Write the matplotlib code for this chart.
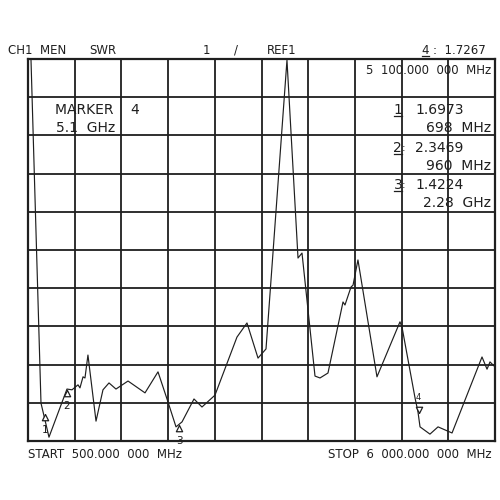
import numpy as np
import matplotlib.pyplot as plt
from matplotlib.lines import Line2D

# trace (frequency in MHz, SWR)
freq_mhz = [535, 653, 700, 747, 959, 1018, 1089, 1112, 1148, 1171, 1206, 1301,
            1383, 1454, 1536, 1678, 1878, 2031, 2149, 2243, 2314, 2455, 2549,
            2702, 2961, 3079, 3209, 3303, 3550, 3680, 3727, 3880, 3939, 4033,
            4210, 4233, 4304, 4328, 4386, 4610, 4881, 4905, 5058, 5093, 5117,
            5234, 5329, 5494, 5847, 5906, 5941, 6000]
swr = [11.0, 1.99, 1.55, 1.10, 2.36, 2.34, 2.47, 2.39, 2.68, 2.65, 3.25, 1.52,
       2.34, 2.52, 2.36, 2.57, 2.26, 2.81, 2.02, 1.37, 1.50, 2.10, 1.89,
       2.20, 3.72, 4.09, 3.17, 3.41, 10.97, 5.79, 5.92, 2.70, 2.65, 2.78,
       4.64, 4.56, 5.03, 5.08, 5.74, 2.68, 4.12, 3.98, 2.13, 1.76, 1.37,
       1.18, 1.37, 1.21, 3.20, 2.88, 3.07, 2.94]

marker_ids = ["1", "2", "3"]
marker_freq = [698, 960, 2280]
marker_swr = [1.6973, 2.3469, 1.4224]
marker_text = ["698  MHz", "960  MHz", "2.28  GHz"]

active_id = "4"
active_freq = 5100
active_swr = 1.7267

start_mhz = 500
stop_mhz = 6000
ref_swr = 1
n_div = 10

font = "DejaVu Sans"
ink = "#1f1f1f"

fig = plt.figure(figsize=(5, 5), dpi=100)
ax = fig.add_axes([0.056, 0.118, 0.934, 0.764])

ax.plot(freq_mhz, swr, color=ink, lw=0.85)

up_tri = [(0, 0), (-0.6, -1.2), (0.6, -1.2), (0, 0)]
down_tri = [(0, 0), (-0.6, 1.2), (0.6, 1.2), (0, 0)]
ax.plot(marker_freq, marker_swr, ls="none", marker=up_tri, ms=9,
        mfc="white", mec=ink, mew=0.9)
for mid, f, s in zip(marker_ids, marker_freq, marker_swr):
    ax.annotate(mid, (f, s), xytext=(0, -8), textcoords="offset points",
                ha="center", va="top", fontsize=7.5, family=font, color=ink)
ax.plot([active_freq], [active_swr], ls="none", marker=down_tri, ms=9,
        mfc="white", mec=ink, mew=0.9)
ax.annotate(active_id, (active_freq, active_swr), xytext=(0, 8),
            textcoords="offset points", ha="center", va="bottom",
            fontsize=6, family=font, color=ink)

step = (stop_mhz - start_mhz) / n_div
ax.set_xlim(start_mhz, stop_mhz)
ax.set_ylim(ref_swr, ref_swr + n_div)
ax.set_xticks(np.arange(start_mhz, stop_mhz + 1, step))
ax.set_yticks(np.arange(ref_swr, ref_swr + n_div + 1, 1))
ax.grid(True, color=ink, lw=1.3)
ax.tick_params(length=0, labelbottom=False, labelleft=False)
for sp in ax.spines.values():
    sp.set_color(ink)
    sp.set_linewidth(1.6)

underlined = []

# header line
hdr = dict(fontsize=8.5, family=font, color=ink, va="center")
fig.text(0.016, 0.900, "CH1  MEN", **hdr)
fig.text(0.178, 0.900, "SWR", **hdr)
fig.text(0.405, 0.900, "1", **hdr)
fig.text(0.468, 0.900, "/", **hdr)
fig.text(0.534, 0.900, "REF1", **hdr)
underlined.append(fig.text(0.843, 0.900, active_id, **hdr))
fig.text(0.866, 0.900, ":  %.4f" % active_swr, **hdr)

# footer line
fig.text(0.056, 0.092, "START  %.3f  000  MHz" % start_mhz, **hdr)
fig.text(0.984, 0.092, "STOP  6  000.000  000  MHz", ha="right", **hdr)

# readouts inside the grid
body = dict(fontsize=10, family=font, color=ink, va="center")
fig.text(0.982, 0.860, "5  100.000  000  MHz", ha="right", **hdr)
fig.text(0.110, 0.780, "MARKER    %s" % active_id, **body)
fig.text(0.113, 0.744, "%.1f  GHz" % (active_freq / 1000), **body)

row_y = [0.780, 0.704, 0.630]
for mid, val, txt, y in zip(marker_ids, marker_swr, marker_text, row_y):
    t = fig.text(0.787, y, mid, **body)
    underlined.append(t)
    if mid != "1":
        fig.text(0.804, y, ":", fontsize=8, family=font, color=ink, va="center")
    fig.text(0.830, y, "%.4f" % val, **body)
    fig.text(0.982, y - 0.036, txt, ha="right", **body)

# underline the marker numbers like the analyzer does
fig.canvas.draw()
r = fig.canvas.get_renderer()
for t in underlined:
    bb = t.get_window_extent(r).transformed(fig.transFigure.inverted())
    yl = bb.y0 + 0.002
    fig.add_artist(Line2D([bb.x0, bb.x1], [yl, yl], color=ink, lw=0.9,
                          transform=fig.transFigure))

fig.savefig("out.png", dpi=100, facecolor="white")
